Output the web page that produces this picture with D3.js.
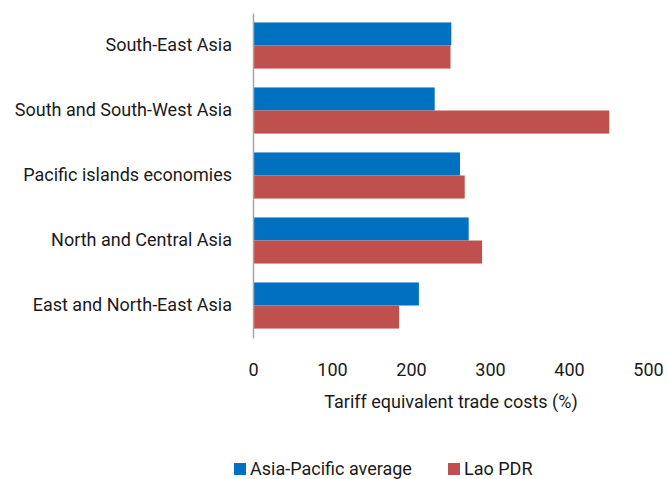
<!DOCTYPE html>
<html>
<head>
<meta charset="utf-8">
<script src="https://cdn.jsdelivr.net/npm/d3@7"></script>
<style>
  html, body { margin: 0; padding: 0; background: #fff; }
  svg { display: block; }
  text { font-family: Roboto, "Noto Sans", sans-serif; fill: #1a1a1a; }
</style>
</head>
<body>
<div id="chart"></div>
<script>
const categories = ["South-East Asia", "South and South-West Asia", "Pacific islands economies", "North and Central Asia", "East and North-East Asia"];
const seriesNames = ["Asia-Pacific average", "Lao PDR"];
const asiaPacificAverage = [251, 230, 262, 273, 210];
const laoPDR = [250, 451, 268, 290, 185];
const xTicks = [0, 100, 200, 300, 400, 500];
const colors = ["#0070C0", "#C0504D"];

const W = 668, H = 479;
const FS = "18px";
const svg = d3.select("#chart").append("svg").attr("width", W).attr("height", H);

const x = d3.scaleLinear().domain([0, 500]).range([253, 648]);
const y = d3.scaleBand().domain(categories).range([13, 338]).paddingInner(0).paddingOuter(0);
const inner = d3.scaleBand().domain(seriesNames).range([0, y.bandwidth()]).paddingOuter(0.41);

const data = categories.map((c, i) => ({cat: c, vals: [asiaPacificAverage[i], laoPDR[i]]}));

const g = svg.append("g");
data.forEach(d => {
  d.vals.forEach((v, j) => {
    g.append("rect")
      .attr("x", x(0))
      .attr("y", y(d.cat) + inner(seriesNames[j]))
      .attr("width", x(v) - x(0))
      .attr("height", inner.bandwidth())
      .attr("fill", colors[j]);
  });
});

// y axis
const yAxis = d3.axisLeft(y).tickSize(0).tickPadding(21);
const ya = svg.append("g").attr("transform", `translate(${x(0)},0)`).call(yAxis);
ya.select(".domain").attr("stroke", "#a6a6a6").attr("stroke-width", 1.5);
ya.selectAll("text").style("font-family", "Roboto, sans-serif").style("font-size", FS).attr("fill", "#1a1a1a");

// x axis labels (no axis line)
const xAxis = d3.axisBottom(x).tickValues(xTicks).tickSize(0).tickPadding(0).tickFormat(d3.format("d"));
const xa = svg.append("g").attr("transform", `translate(0,363)`).call(xAxis);
xa.select(".domain").remove();
xa.selectAll("text").style("font-family", "Roboto, sans-serif").style("font-size", FS).attr("fill", "#1a1a1a");

svg.append("text")
  .attr("x", 451).attr("y", 408)
  .attr("text-anchor", "middle")
  .style("font-size", FS)
  .text("Tariff equivalent trade costs (%)");

// legend
const legendX = [234, 448];
seriesNames.forEach((s, j) => {
  const lg = svg.append("g").attr("transform", `translate(${legendX[j]},463)`);
  lg.append("rect").attr("width", 12).attr("height", 12).attr("fill", colors[j]);
  lg.append("text").attr("x", 16).attr("y", 12).style("font-size", FS).text(s);
});
</script>
</body>
</html>
